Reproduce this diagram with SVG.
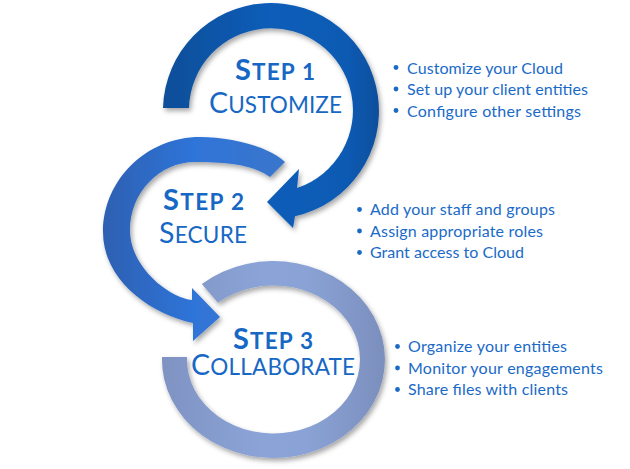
<svg xmlns="http://www.w3.org/2000/svg" width="630" height="469" viewBox="0 0 630 469">
<defs>
<style>
.h{font-family:Lato,"Open Sans","Liberation Sans",sans-serif;fill:#1767C4;font-size:22.5px}
.b{font-weight:bold}
.t{font-family:Lato,"Open Sans","Liberation Sans",sans-serif;fill:#1A6AC8;font-size:16px}
.dot{fill:#1A6AC8}
</style>
<filter id="sh" x="-20%" y="-20%" width="140%" height="140%">
<feDropShadow dx="2" dy="3" stdDeviation="2.5" flood-color="#000" flood-opacity="0.35"/>
</filter>
<linearGradient id="g1" x1="0" y1="0" x2="1" y2="0">
<stop offset="0" stop-color="#114E98"/>
<stop offset="0.5" stop-color="#0B5DB9"/>
<stop offset="0.85" stop-color="#0A5AB3"/>
<stop offset="1" stop-color="#0E4F9C"/>
</linearGradient>
<linearGradient id="g2" x1="0" y1="0" x2="1" y2="0">
<stop offset="0" stop-color="#2D60B2"/>
<stop offset="0.5" stop-color="#2F74D8"/>
<stop offset="1" stop-color="#3A76CC"/>
</linearGradient>
<linearGradient id="g3" x1="0" y1="0" x2="1" y2="0">
<stop offset="0" stop-color="#7F93C2"/>
<stop offset="0.45" stop-color="#8BA4D8"/>
<stop offset="0.65" stop-color="#8AA2D5"/>
<stop offset="1" stop-color="#7B8FBD"/>
</linearGradient>
</defs>
<rect width="630" height="469" fill="#fff"/>
<g id="connectors" filter="url(#sh)">
<path id="arc3" fill="url(#g3)" d="M162,357 A111.5,98.5 0 1 0 201.8,284.05 L217.9,302.8 A86.5,74 0 1 1 187.05,357 Z"/>
<path id="arc2" fill="url(#g2)" d="M285,162 C268,146 230,137 200,137 C146.5,137 103,180 103,232 C103,280 150,314 193,323 L193,341 L220,317 L192,288 L192,300 C170,298 130,268 130,230 C130,193 159,162 195,162 C225,162 252,164 270,177 Z"/>
<path id="arc1" fill="url(#g1)" d="M163,108 A108,108 0 1 1 295,216.3 L293,228 L267,202 L299,169 L297,188 A82,82 0 1 0 189,108 Z"/>
</g>
<g id="step1">
<text class="h b" x="235" y="80" textLength="80"><tspan font-size="29">S</tspan>TEP 1</text>
<text class="h" x="209" y="113" textLength="133"><tspan font-size="28.5">C</tspan>USTOMIZE</text>
<circle class="dot" cx="396" cy="67.5" r="2.4"/>
<circle class="dot" cx="396" cy="89" r="2.4"/>
<circle class="dot" cx="396" cy="110.5" r="2.4"/>
<text class="t" x="407" y="73.5" textLength="156">Customize your Cloud</text>
<text class="t" x="407" y="95" textLength="181">Set up your client entities</text>
<text class="t" x="407" y="116.5" textLength="174">Configure other settings</text>
</g>
<g id="step2">
<text class="h b" x="163" y="210" textLength="81"><tspan font-size="29">S</tspan>TEP 2</text>
<text class="h" x="159" y="243" textLength="88"><tspan font-size="28.5">S</tspan>ECURE</text>
<circle class="dot" cx="359.5" cy="209.5" r="2.4"/>
<circle class="dot" cx="359.5" cy="231" r="2.4"/>
<circle class="dot" cx="359.5" cy="252.5" r="2.4"/>
<text class="t" x="370" y="215" textLength="185">Add your staff and groups</text>
<text class="t" x="370" y="236.5" textLength="173">Assign appropriate roles</text>
<text class="t" x="370" y="258" textLength="154">Grant access to Cloud</text>
</g>
<g id="step3">
<text class="h b" x="233" y="349" textLength="80"><tspan font-size="29">S</tspan>TEP 3</text>
<text class="h" x="191" y="375" textLength="164"><tspan font-size="28.5">C</tspan>OLLABORATE</text>
<circle class="dot" cx="397.5" cy="346.5" r="2.4"/>
<circle class="dot" cx="397.5" cy="368" r="2.4"/>
<circle class="dot" cx="397.5" cy="389.5" r="2.4"/>
<text class="t" x="408" y="352" textLength="159">Organize your entities</text>
<text class="t" x="408" y="373.5" textLength="195">Monitor your engagements</text>
<text class="t" x="408" y="395" textLength="160">Share files with clients</text>
</g>
</svg>
